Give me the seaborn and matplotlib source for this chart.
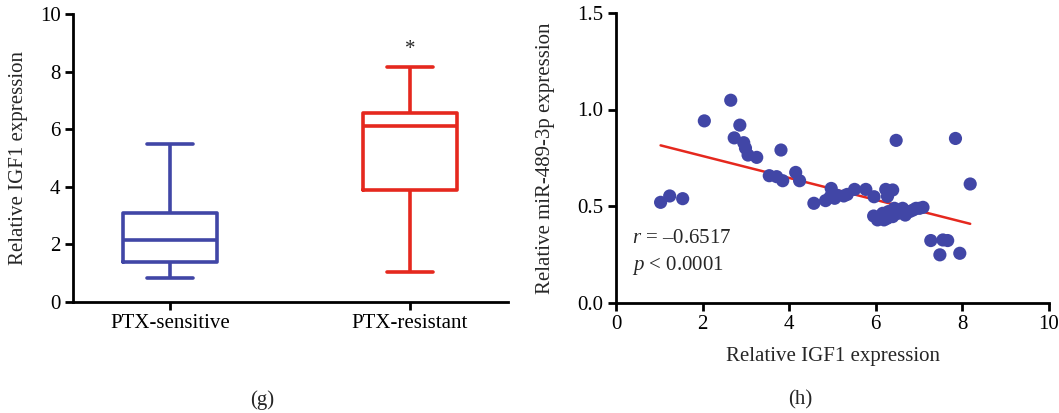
import numpy as np
import pandas as pd
import matplotlib
matplotlib.use("Agg")
import matplotlib.pyplot as plt
import seaborn as sns

# ---------------- data ----------------
groups = ["PTX-sensitive", "PTX-resistant"]
# five-number summaries (min, Q1, median, Q3, max)
sensitive_vals = [0.85, 1.40, 2.15, 3.10, 5.50]
resistant_vals = [1.05, 3.90, 6.10, 6.55, 8.15]

igf1 = [1.03, 1.24, 1.54, 2.04, 2.65, 2.86, 2.73, 2.95, 2.99, 3.05, 3.25, 3.81,
        3.54, 3.71, 3.85, 4.15, 4.24, 4.57, 4.84, 4.97, 4.95, 5.11, 5.26, 5.34,
        5.51, 5.77, 5.96, 6.23, 6.39, 6.47, 7.84, 8.18, 7.27, 7.55, 7.66, 7.48,
        7.94, 5.95, 6.04, 6.16, 6.26, 6.29, 6.35, 6.43, 6.51, 6.58, 6.68, 6.78,
        6.86, 6.93, 7.01, 7.09, 6.19, 6.39, 6.62, 6.27, 5.05]
mir = [0.519, 0.552, 0.538, 0.941, 1.048, 0.919, 0.853, 0.828, 0.800, 0.764, 0.752, 0.790,
       0.657, 0.652, 0.631, 0.674, 0.631, 0.514, 0.528, 0.591, 0.548, 0.555, 0.552, 0.560,
       0.586, 0.586, 0.548, 0.586, 0.583, 0.840, 0.850, 0.614, 0.321, 0.324, 0.321, 0.247,
       0.255, 0.448, 0.428, 0.462, 0.436, 0.471, 0.453, 0.488, 0.462, 0.471, 0.453, 0.471,
       0.479, 0.488, 0.488, 0.493, 0.428, 0.445, 0.488, 0.550, 0.540]

r_text = "–0.6517"
p_text = "< 0.0001"

blue = "#4146A6"
red = "#E5281E"

# ---------------- style ----------------
sns.set_theme(style="ticks")
plt.rcParams['font.family'] = ['Liberation Serif', 'DejaVu Serif']
plt.rcParams['mathtext.fontset'] = 'custom'
plt.rcParams['mathtext.it'] = 'Liberation Serif:italic'
FS = 15

W, H = 1059, 413
fig = plt.figure(figsize=(W / 100, H / 100), dpi=100)

ax1 = fig.add_axes([73 / W, 1 - 302 / H, (508 - 73) / W, (302 - 14) / H])
ax2 = fig.add_axes([616 / W, 1 - 302.5 / H, (1049 - 616) / W, (302.5 - 13) / H])

# ---------------- (g) box plot ----------------
box_df = pd.DataFrame({
    "group": [groups[0]] * len(sensitive_vals) + [groups[1]] * len(resistant_vals),
    "value": sensitive_vals + resistant_vals,
})
sns.boxplot(data=box_df, x="group", y="value", hue="group", order=groups,
            palette=[blue, red], fill=False, whis=(0, 100), width=0.39,
            linewidth=2.6, legend=False, ax=ax1)
ax1.set_xlim(-0.404, 1.408)
ax1.set_ylim(0, 10)
ax1.set_yticks([0, 2, 4, 6, 8, 10])
ax1.set_xlabel("")
ax1.set_ylabel("Relative IGF1 expression", fontsize=FS)
ax1.yaxis.set_label_coords(-0.104, 0.5)
ax1.text(1, 8.75, "*", ha="center", va="center", fontsize=FS)

# ---------------- (h) scatter + regression ----------------
sc_df = pd.DataFrame({"igf1": igf1, "mir": mir})
sns.regplot(data=sc_df, x="igf1", y="mir", scatter=False, ci=None,
            color=red, line_kws={"linewidth": 1.8, "zorder": 1}, ax=ax2)
sns.scatterplot(data=sc_df, x="igf1", y="mir", color=blue, s=90,
                edgecolor="none", linewidth=0, zorder=3, ax=ax2)
ax2.set_xlim(0, 10)
ax2.set_ylim(0, 1.5)
ax2.set_xticks([0, 2, 4, 6, 8, 10])
ax2.set_yticks([0, 0.5, 1.0, 1.5])
ax2.set_yticklabels(["0.0", "0.5", "1.0", "1.5"])
ax2.set_xlabel("Relative IGF1 expression", fontsize=FS, labelpad=9)
ax2.set_ylabel("Relative miR-489-3p expression", fontsize=FS)
ax2.yaxis.set_label_coords(-0.142, 0.5)
ax2.text(0.37, 0.33, r"$\mathit{r}$ = " + r_text, ha="left", va="center", fontsize=FS)
ax2.text(0.37, 0.19, r"$\mathit{p}$ " + p_text, ha="left", va="center", fontsize=FS)

for ax in (ax1, ax2):
    sns.despine(ax=ax)
    for s in ("left", "bottom"):
        ax.spines[s].set_linewidth(2.0)
        ax.spines[s].set_color("black")
    ax.tick_params(axis="both", direction="out", length=6, width=2.0,
                   labelsize=FS, colors="black", pad=3)

fig.text(262 / W, 1 - 400 / H, "(g)", ha="center", va="center", fontsize=FS)
fig.text(800 / W, 1 - 400 / H, "(h)", ha="center", va="center", fontsize=FS)

fig.savefig("out.png", dpi=100, facecolor="white")
